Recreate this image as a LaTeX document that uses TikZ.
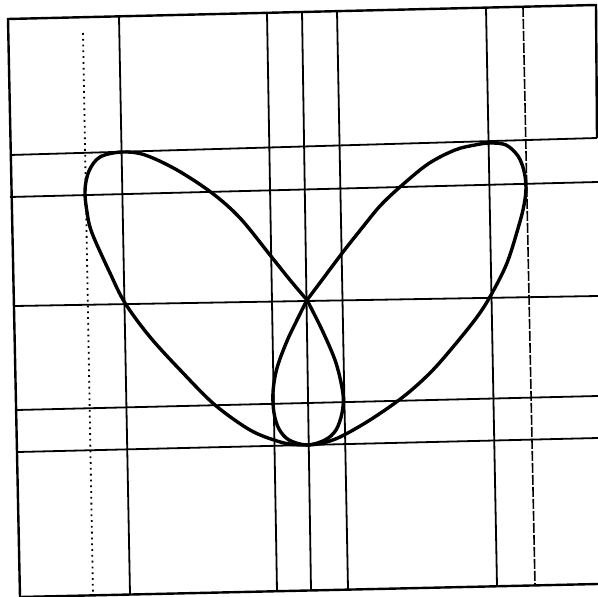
\documentclass[tikz,border=0pt]{standalone}
\usepackage{tikz}
\usetikzlibrary{calc}

\begin{document}
\begin{tikzpicture}[x=0.5pt, y=-0.5pt,
  frame/.style={line width=1.2pt},
  grid/.style={line width=0.9pt},
  dotgrid/.style={line width=0.9pt, dotted},
  dashgrid/.style={line width=0.8pt, dash pattern=on 5pt off 1pt},
  lobe/.style={line width=1.7pt, line join=round, line cap=round},
]
\useasboundingbox (0,0) rectangle (598,597);

\coordinate (topleft)  at (8,19);
\coordinate (topright) at (596,5);
\coordinate (botleft)  at (20,597);
\coordinate (botright) at (598,584);
\coordinate (crossing) at (307,300);
\coordinate (bottom)   at (307,445);

\draw[frame] (botleft) -- (topleft) -- (topright) -- (597,138);
\draw[frame] (botleft) -- (botright);

\draw[grid] (10,155) -- (597,138);
\draw[grid] (10,197) -- (598,182);
\draw[grid] (15,306) -- (598,296);
\draw[grid] (17,410) -- (598,396);
\draw[grid] (18,452) -- (598,438);

\draw[dotgrid] (83,33) -- (93,595);
\draw[grid] (119,17) -- (130,594);
\draw[grid] (267,13) -- (277,591);
\draw[grid] (302,11) -- (311,590);
\draw[grid] (337,11) -- (348,589);
\draw[grid] (486,8) -- (497,586);
\draw[dashgrid] (523,7) -- (535,585);

\draw[lobe] plot[smooth, tension=0.55] coordinates {
  (crossing) (290,280) (270,255) (240,218) (212,193) (177,170) (145,155)
  (122,152) (100,157) (89,171) (85,190) (87,212) (92,233) (110,273)
  (125,303) (150,337) (183,373) (215,405) (250,430) (277,441) (293,444.5) (bottom)};

\draw[lobe] plot[smooth, tension=0.55] coordinates {
  (crossing) (325,276) (343,252) (362,228) (380,206) (400,187) (428,164)
  (455,150) (475,145) (490,143) (506,145) (518,156) (524,171) (526,188)
  (524,205) (519,225) (507,263) (491,295) (477,317) (453,347) (430,373)
  (403,397) (370,420) (340,437) (321,443.5) (bottom)};

\draw[lobe] plot[smooth, tension=0.55] coordinates {
  (crossing) (298,318) (287,341) (277,368) (273,392) (274,413) (279,429)
  (289,440) (bottom) (325,440) (336,430) (342,413) (343,394) (336,363)
  (323,332) (crossing)};

\end{tikzpicture}
\end{document}
